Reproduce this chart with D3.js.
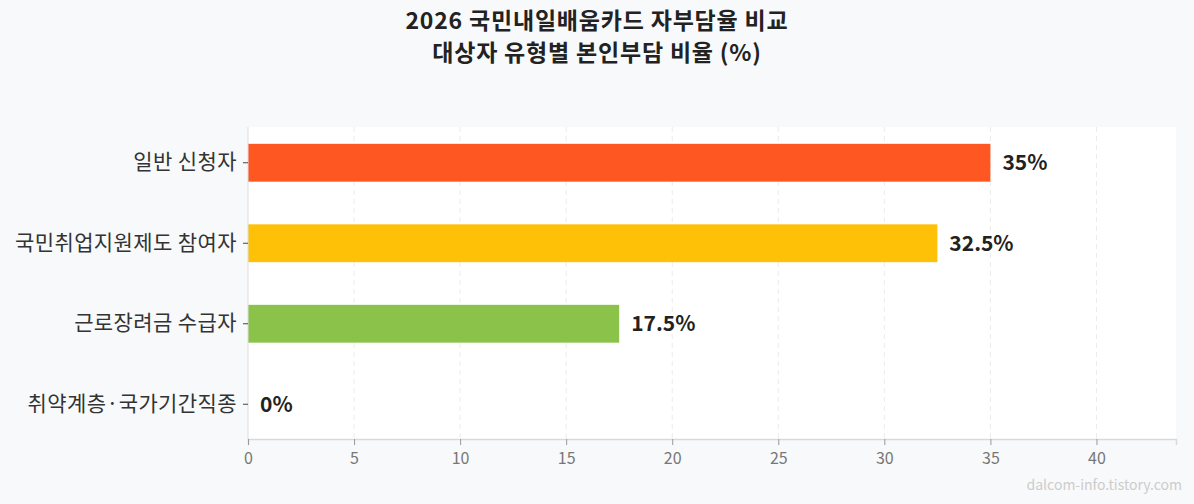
<!DOCTYPE html>
<html><head><meta charset="utf-8">
<script src="https://cdn.jsdelivr.net/npm/d3@7"></script>
<style>
html,body{margin:0;padding:0;background:#f8f9fa;}
svg{display:block;font-family:"Noto Sans CJK KR","Noto Sans",sans-serif;}
</style></head><body>
<svg id="c" width="1194" height="504"></svg>
<script>
const categories = ["일반 신청자","국민취업지원제도 참여자","근로장려금 수급자","취약계층·국가기간직종"];
const values = [35, 32.5, 17.5, 0];
const valueLabels = ["35%","32.5%","17.5%","0%"];
const colors = ["#ff5722","#ffc107","#8bc34a","#2196f3"];
const xTicks = [0,5,10,15,20,25,30,35,40];
const titleLines = ["2026 국민내일배움카드 자부담율 비교","대상자 유형별 본인부담 비율 (%)"];
const watermark = "dalcom-info.tistory.com";

(function(){
const svg = d3.select("#c");
const pL = 248, pR = 1176, pT = 127, pB = 439;
const x = d3.scaleLinear().domain([0, 43.75]).range([pL, pR]);
const y = d3.scaleBand().domain(categories).range([122.5, 444.5]).paddingInner(0.53).paddingOuter(0.265);

svg.append("rect").attr("x", pL).attr("y", pT).attr("width", pR-pL).attr("height", pB-pT).attr("fill","#fff");

// grid
svg.append("g").selectAll("line").data(xTicks.filter(d=>d>0)).join("line")
  .attr("x1", d=>x(d)).attr("x2", d=>x(d)).attr("y1", pT).attr("y2", pB)
  .attr("stroke","#ebebeb").attr("stroke-dasharray","5,4").attr("stroke-width",1);

// title
svg.append("g").selectAll("text").data(titleLines).join("text")
  .attr("text-anchor","middle").attr("x", 597).attr("y", (d,i)=>28.5+i*32.5)
  .attr("font-size",23).attr("letter-spacing","0.8px").attr("font-weight",700).attr("fill","#222")
  .text(d=>d);

// bars
svg.append("g").selectAll("rect").data(values).join("rect")
  .attr("x", x(0)).attr("y",(d,i)=>y(categories[i]))
  .attr("width", d=>x(d)-x(0)).attr("height", y.bandwidth())
  .attr("fill",(d,i)=>colors[i]);

// value labels
svg.append("g").selectAll("text").data(values).join("text")
  .attr("x", d=>x(d)+12).attr("y",(d,i)=>y(categories[i])+y.bandwidth()/2)
  .attr("dy","0.36em").attr("font-size",21).attr("font-weight",700).attr("fill","#222")
  .text((d,i)=>valueLabels[i]);

// x axis
const gx = svg.append("g").attr("transform",`translate(0,${pB})`)
  .call(d3.axisBottom(x).tickValues(xTicks).tickSize(6).tickPadding(8).tickFormat(d3.format("d")));
gx.select(".domain").attr("stroke","#d9d9d9").attr("stroke-width",1.5);
gx.selectAll(".tick line").attr("stroke","#999");
gx.selectAll(".tick text").attr("font-size",16).attr("fill","#777").attr("font-family","'Noto Sans CJK KR',sans-serif");

// y axis
const gy = svg.append("g").attr("transform",`translate(${pL},0)`)
  .call(d3.axisLeft(y).tickSize(5).tickPadding(6));
gy.select(".domain").attr("stroke","#ddd").attr("d",`M0,${pT}V${pB}`);
gy.selectAll(".tick line").attr("stroke","#444");
gy.selectAll(".tick text").attr("font-size",21).attr("letter-spacing","0.4px").attr("fill","#333").attr("font-family","'Noto Sans CJK KR',sans-serif");

svg.append("text").attr("x",1182).attr("y",490).attr("text-anchor","end")
  .attr("font-size",14).attr("fill","#cccccc").text(watermark);
})();
</script>
</body></html>
